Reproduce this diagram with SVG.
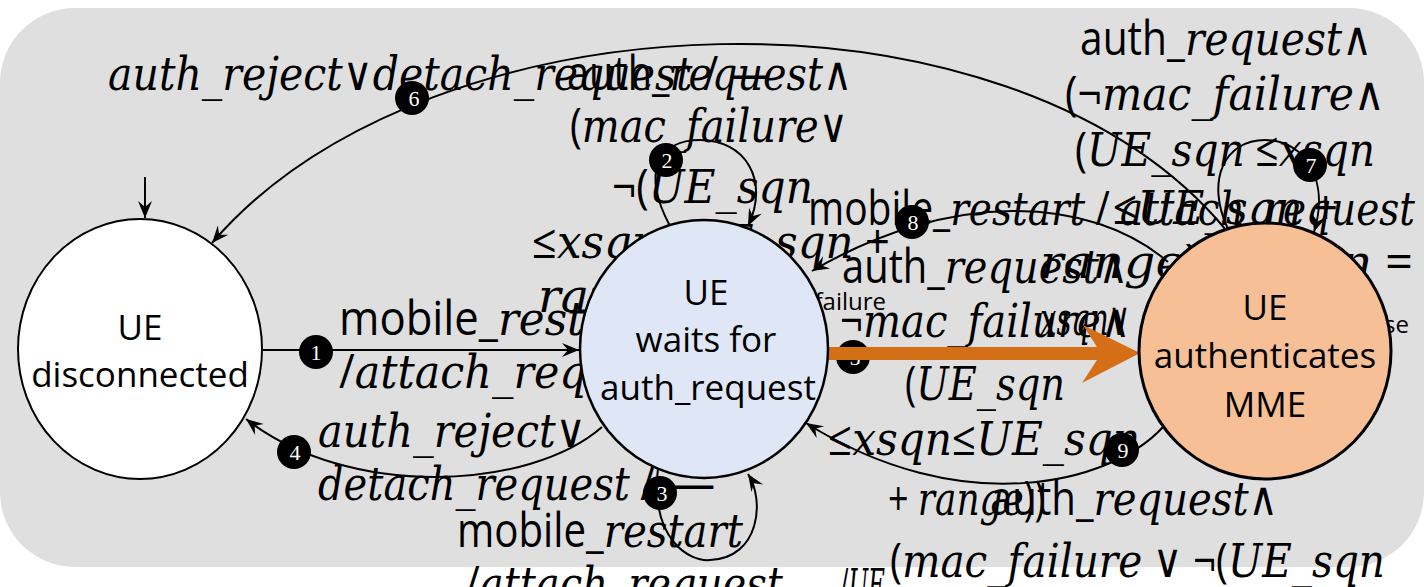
<svg xmlns="http://www.w3.org/2000/svg" width="1424" height="587" viewBox="0 0 1424 587">
  <defs>
    <style>
      .lbl { font-size: 47px; fill: #000; font-family: "DejaVu Serif", serif; font-style: italic; }
      .up { font-family: "Open Sans", "DejaVu Sans", sans-serif; font-style: normal; }
      .small { font-size: 24px; font-family: "Open Sans", "DejaVu Sans", sans-serif; fill: #000; }
      .node-text { font-family: "Open Sans", "DejaVu Sans", sans-serif; font-size: 35px; fill: #000; text-anchor: middle; }
      .edge { fill: none; stroke: #000; stroke-width: 2; marker-end: url(#arrow); }
      .badge circle { fill: #000; }
      .badge text { font-family: "Liberation Serif", serif; font-size: 22px; fill: #fff; text-anchor: middle; }
    </style>
    <marker id="arrow" viewBox="-18 -8 19 16" refX="0" refY="0" markerWidth="19" markerHeight="16" markerUnits="userSpaceOnUse" orient="auto">
      <path d="M0,0 L-17,-7 L-11,0 L-17,7 Z" fill="#000"/>
    </marker>
  </defs>

  <!-- backdrop panel -->
  <rect x="0" y="8" width="1424" height="559" rx="75" ry="75" fill="#dfdfdf"/>

  <!-- transition labels (drawn under the states) -->
  <g id="labels">
    <g id="label-6">
      <text class="lbl" x="108" y="90" textLength="662" lengthAdjust="spacingAndGlyphs">auth_reject<tspan class="up">∨</tspan>detach_request<tspan class="up"> / —</tspan></text>
    </g>
    <g id="label-2">
      <text class="lbl" x="567" y="90" textLength="285" lengthAdjust="spacingAndGlyphs"><tspan class="up">auth_</tspan>request<tspan class="up">∧</tspan></text>
      <text class="lbl" x="570" y="142" textLength="278" lengthAdjust="spacingAndGlyphs"><tspan class="up">(</tspan>mac_failure<tspan class="up">∨</tspan></text>
      <text class="lbl" x="612" y="203" textLength="201" lengthAdjust="spacingAndGlyphs"><tspan class="up">¬(</tspan>UE_sqn</text>
      <text class="lbl" x="532" y="258" textLength="358" lengthAdjust="spacingAndGlyphs"><tspan class="up">≤</tspan>xsqn<tspan class="up">≤</tspan>UE_sqn<tspan class="up"> +</tspan></text>
      <text class="lbl" x="538" y="312" textLength="185" lengthAdjust="spacingAndGlyphs">range<tspan class="up">))/</tspan></text>
      <text class="small" x="886" y="310" text-anchor="end">auth_failure</text>
    </g>
    <g id="label-1">
      <text class="lbl" x="339" y="335" textLength="310" lengthAdjust="spacingAndGlyphs"><tspan class="up">mobile_</tspan>restart</text>
      <text class="lbl" x="339" y="388" textLength="340" lengthAdjust="spacingAndGlyphs"><tspan class="up">/</tspan>attach_request</text>
    </g>
    <g id="label-4">
      <text class="lbl" x="318" y="447" textLength="268" lengthAdjust="spacingAndGlyphs">auth_reject<tspan class="up">∨</tspan></text>
      <text class="lbl" x="318" y="500" textLength="337" lengthAdjust="spacingAndGlyphs">detach_request<tspan class="up"> /</tspan></text>
      <text class="lbl up" x="673" y="500" textLength="42" lengthAdjust="spacingAndGlyphs">—</text>
    </g>
    <g id="label-3">
      <text class="lbl" x="457" y="547" textLength="286" lengthAdjust="spacingAndGlyphs"><tspan class="up">mobile_</tspan>restart</text>
      <text class="lbl" x="465" y="600" textLength="318" lengthAdjust="spacingAndGlyphs"><tspan class="up">/</tspan>attach_request</text>
    </g>
    <g id="label-8">
      <text class="lbl" x="808" y="225" textLength="607" lengthAdjust="spacingAndGlyphs"><tspan class="up">mobile_</tspan>restart<tspan class="up"> / </tspan>attach_request</text>
    </g>
    <g id="label-5">
      <text class="lbl" x="842" y="283" textLength="286" lengthAdjust="spacingAndGlyphs"><tspan class="up">auth_</tspan>request<tspan class="up">∧</tspan></text>
      <text class="lbl" x="840" y="337" textLength="290" lengthAdjust="spacingAndGlyphs"><tspan class="up">¬</tspan>mac_failure<tspan class="up">∧</tspan></text>
      <text class="lbl" x="905" y="400" textLength="160" lengthAdjust="spacingAndGlyphs"><tspan class="up">(</tspan>UE_sqn</text>
      <text class="lbl" x="828" y="455" textLength="312" lengthAdjust="spacingAndGlyphs"><tspan class="up">≤</tspan>xsqn<tspan class="up">≤</tspan>UE_sqn</text>
      <text class="lbl" x="888" y="515" textLength="157" lengthAdjust="spacingAndGlyphs"><tspan class="up">+ </tspan>range<tspan class="up">))</tspan></text>
      <text class="lbl" x="840" y="602" textLength="45" lengthAdjust="spacingAndGlyphs"><tspan class="up">/</tspan>UE</text>
    </g>
    <g id="label-9">
      <text class="lbl" x="990" y="515" textLength="288" lengthAdjust="spacingAndGlyphs"><tspan class="up">auth_</tspan>request<tspan class="up">∧</tspan></text>
      <text class="lbl" x="890" y="577" textLength="495" lengthAdjust="spacingAndGlyphs"><tspan class="up">(</tspan>mac_failure<tspan class="up"> ∨ ¬(</tspan>UE_sqn</text>
    </g>
    <g id="label-7">
      <text class="lbl" x="1080" y="55" textLength="292" lengthAdjust="spacingAndGlyphs"><tspan class="up">auth_</tspan>request<tspan class="up">∧</tspan></text>
      <text class="lbl" x="1065" y="110" textLength="320" lengthAdjust="spacingAndGlyphs"><tspan class="up">(¬</tspan>mac_failure<tspan class="up">∧</tspan></text>
      <text class="lbl" x="1075" y="166" textLength="300" lengthAdjust="spacingAndGlyphs"><tspan class="up">(</tspan>UE_sqn<tspan class="up"> ≤</tspan>xsqn</text>
      <text class="lbl" x="1113" y="224" textLength="225" lengthAdjust="spacingAndGlyphs"><tspan class="up">≤</tspan>UE_sqn<tspan class="up"> +</tspan></text>
      <text class="lbl" x="1040" y="278" textLength="373" lengthAdjust="spacingAndGlyphs">range<tspan class="up">)) / </tspan>xsqn<tspan class="up"> =</tspan></text>
      <text class="lbl" x="1040" y="335" textLength="90" lengthAdjust="spacingAndGlyphs">xsqn<tspan class="up">∨</tspan></text>
      <text class="small" x="1409" y="333" text-anchor="end">auth_response</text>
    </g>
  </g>

  <!-- transitions -->
  <g id="connectors">
    <line class="edge" x1="145" y1="177" x2="145" y2="218"/>
    <path id="edge-1" class="edge" d="M262,350 L579,350"/>
    <path id="edge-2" class="edge" d="M670,226 C640,170 660,140 700,140 C745,140 770,180 748,226"/>
    <path id="edge-3" class="edge" d="M658,468 C650,540 690,562 710,560 C760,558 765,500 748,474"/>
    <path id="edge-4" class="edge" d="M602,427 C530,490 350,500 246,419"/>
    <path id="edge-6" class="edge" d="M1226,230 C1010,-30 430,-10 212,243"/>
    <path id="edge-7" class="edge" d="M1228,229 C1205,180 1225,140 1265,140 C1305,140 1330,180 1314,232"/>
    <path id="edge-8" class="edge" d="M1168,262 C1090,195 950,190 812,271"/>
    <path id="edge-9" class="edge" d="M1163,427 C1110,485 960,520 806,423"/>

    <g class="badge"><circle cx="316" cy="352" r="17"/><text x="316" y="360">1</text></g>
    <g class="badge"><circle cx="666" cy="160" r="17"/><text x="667" y="168">2</text></g>
    <g class="badge"><circle cx="660" cy="493" r="17"/><text x="662" y="501">3</text></g>
    <g class="badge"><circle cx="294" cy="452" r="17"/><text x="295" y="460">4</text></g>
    <g class="badge"><circle cx="853" cy="357" r="17"/><text x="855" y="365">5</text></g>
    <g class="badge"><circle cx="412" cy="98" r="17"/><text x="414" y="106">6</text></g>
    <g class="badge"><circle cx="1310" cy="165" r="17"/><text x="1311" y="173">7</text></g>
    <g class="badge"><circle cx="912" cy="222" r="17"/><text x="913" y="230">8</text></g>
    <g class="badge"><circle cx="1122" cy="450" r="17"/><text x="1123" y="458">9</text></g>

    <!-- highlighted transition 5 -->
    <polygon id="edge-5" points="828,347 1097,347 1083,325 1140,353 1082,383 1097,360 828,360" fill="#d46f17"/>
  </g>

  <!-- states -->
  <g id="node-disconnected">
    <ellipse cx="140" cy="349" rx="122" ry="130" fill="#fff" stroke="#000" stroke-width="2"/>
    <text class="node-text" x="140" y="340">UE</text>
    <text class="node-text" x="140" y="387">disconnected</text>
  </g>
  <g id="node-waits">
    <ellipse cx="704" cy="349" rx="124" ry="129" fill="#dfe6f5" stroke="#000" stroke-width="2.5"/>
    <text class="node-text" x="706" y="305">UE</text>
    <text class="node-text" x="706" y="352">waits for</text>
    <text class="node-text" x="708" y="400">auth_request</text>
  </g>
  <g id="node-authenticates">
    <ellipse cx="1265" cy="351" rx="126" ry="128" fill="#f6bf96" stroke="#000" stroke-width="3"/>
    <text class="node-text" x="1265" y="320">UE</text>
    <text class="node-text" x="1265" y="368">authenticates</text>
    <text class="node-text" x="1265" y="417">MME</text>
  </g>
</svg>
